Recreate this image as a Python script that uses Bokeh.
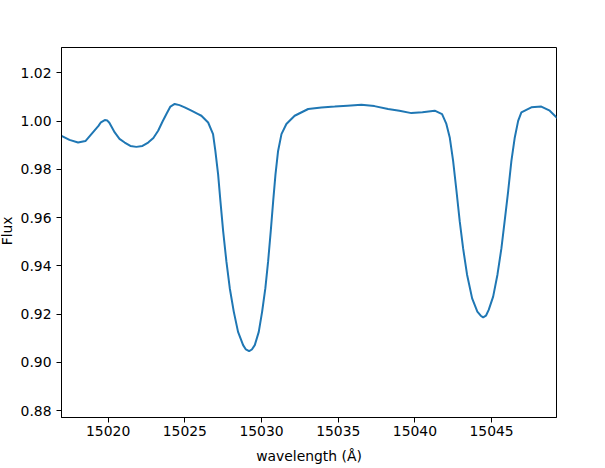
import math
from bokeh.plotting import figure
from bokeh.layouts import row
from bokeh.models import FixedTicker, NumeralTickFormatter, BasicTickFormatter, Range1d
from bokeh.core.properties import value
from bokeh.embed import file_html
from bokeh.resources import INLINE

wavelength = [
    15016.96, 15017.48, 15018.04, 15018.52, 15018.91, 15019.37, 15019.53, 15019.78,
    15019.95, 15020.08, 15020.43, 15020.74, 15021.08, 15021.45, 15021.84, 15022.24,
    15022.61, 15022.95, 15023.26, 15023.54, 15023.80, 15024.06, 15024.34, 15024.65,
    15024.99, 15025.43, 15025.87, 15026.08, 15026.52, 15026.84, 15026.99, 15027.17,
    15027.32, 15027.50, 15027.71, 15027.93, 15028.19, 15028.47, 15028.80, 15028.98,
    15029.19, 15029.37, 15029.56, 15029.82, 15030.04, 15030.25, 15030.43, 15030.60,
    15030.76, 15030.91, 15031.08, 15031.30, 15031.62, 15032.16, 15033.04, 15033.90,
    15034.77, 15035.60, 15036.51, 15037.36, 15038.25, 15038.99, 15039.77, 15040.49,
    15041.29, 15041.77, 15042.05, 15042.27, 15042.49, 15042.71, 15042.92, 15043.14,
    15043.40, 15043.73, 15044.07, 15044.29, 15044.45, 15044.63, 15044.81, 15045.10,
    15045.38, 15045.64, 15045.85, 15046.08, 15046.29, 15046.51, 15046.73, 15046.94,
    15047.59, 15048.24, 15048.79, 15049.29,
]
flux = [
    0.9939, 0.9922, 0.9911, 0.9917, 0.9946, 0.9980, 0.9995, 1.0004,
    1.0002, 0.9993, 0.9953, 0.9926, 0.9911, 0.9897, 0.9893, 0.9897,
    0.9911, 0.9930, 0.9960, 0.9997, 1.0029, 1.0060, 1.0071, 1.0066,
    1.0057, 1.0043, 1.0029, 1.0022, 0.9994, 0.9946, 0.9876, 0.9779,
    0.9668, 0.9543, 0.9418, 0.9307, 0.9210, 0.9126, 0.9071, 0.9053,
    0.9046, 0.9053, 0.9071, 0.9126, 0.9210, 0.9307, 0.9418, 0.9543,
    0.9668, 0.9779, 0.9876, 0.9946, 0.9988, 1.0022, 1.0050, 1.0056,
    1.0060, 1.0064, 1.0068, 1.0062, 1.0050, 1.0043, 1.0033, 1.0037,
    1.0043, 1.0029, 0.9988, 0.9932, 0.9835, 0.9710, 0.9585, 0.9473,
    0.9363, 0.9265, 0.9210, 0.9193, 0.9186, 0.9193, 0.9217, 0.9272,
    0.9363, 0.9473, 0.9585, 0.9710, 0.9835, 0.9932, 1.0001, 1.0036,
    1.0057, 1.0060, 1.0043, 1.0011,
]
x_ticks = [15020, 15025, 15030, 15035, 15040, 15045]
y_ticks = [0.88, 0.90, 0.92, 0.94, 0.96, 0.98, 1.00, 1.02]
x_label = "wavelength (Å)"
y_label = "Flux"

X0, X1 = 15016.96, 15049.23
Y0, Y1 = 0.8771, 1.0305

FONT = "DejaVu Sans"
FS = "13.9px"
H = 468
LW = 17  # width of the strip holding the y-axis title

# main plot
p = figure(width=605 - LW, height=H, output_backend="svg", toolbar_location=None,
           x_range=Range1d(X0, X1), y_range=Range1d(Y0, Y1),
           min_border_left=60 - LW, min_border_top=47, min_border_right=49,
           min_border_bottom=51)
p.background_fill_color = "white"
p.border_fill_color = "white"
p.outline_line_color = "black"
p.outline_line_alpha = 1.0
p.outline_line_width = 1
p.xgrid.visible = False
p.ygrid.visible = False

p.line(wavelength, flux, line_color="#1f77b4", line_width=2)

p.xaxis.ticker = FixedTicker(ticks=x_ticks)
p.yaxis.ticker = FixedTicker(ticks=y_ticks)
p.xaxis.formatter = BasicTickFormatter(use_scientific=False)
p.yaxis.formatter = NumeralTickFormatter(format="0.00")
p.xaxis.axis_label = x_label

for ax in (p.xaxis, p.yaxis):
    ax.axis_line_color = "black"
    ax.axis_line_width = 1
    ax.major_tick_line_color = "black"
    ax.major_tick_out = 5
    ax.major_tick_in = 0
    ax.minor_tick_line_color = None
    ax.major_label_text_font = FONT
    ax.major_label_text_font_size = FS
    ax.major_label_text_color = "black"
    ax.axis_label_text_font = FONT
    ax.axis_label_text_font_size = FS
    ax.axis_label_text_font_style = "normal"
    ax.axis_label_text_color = "black"
p.yaxis.major_label_standoff = 5
p.xaxis.major_label_standoff = 3
p.xaxis.axis_label_standoff = 9

# narrow strip carrying the rotated y-axis title
t = figure(width=LW, height=H, output_backend="svg", toolbar_location=None,
           x_range=Range1d(0, LW), y_range=Range1d(0, H),
           x_axis_type=None, y_axis_type=None,
           min_border=0, min_border_left=0, min_border_right=0,
           min_border_top=0, min_border_bottom=0)
t.outline_line_color = None
t.background_fill_color = "white"
t.border_fill_color = "white"
t.xgrid.visible = False
t.ygrid.visible = False
t.text(x=[LW - 2.5], y=[H - 232], text=[y_label], angle=math.pi / 2,
       text_align="center", text_baseline="bottom",
       text_font=value(FONT), text_font_size=value(FS), text_color="black")

layout = row(t, p, spacing=0)

open("out.html", "w").write(file_html(layout, INLINE))
